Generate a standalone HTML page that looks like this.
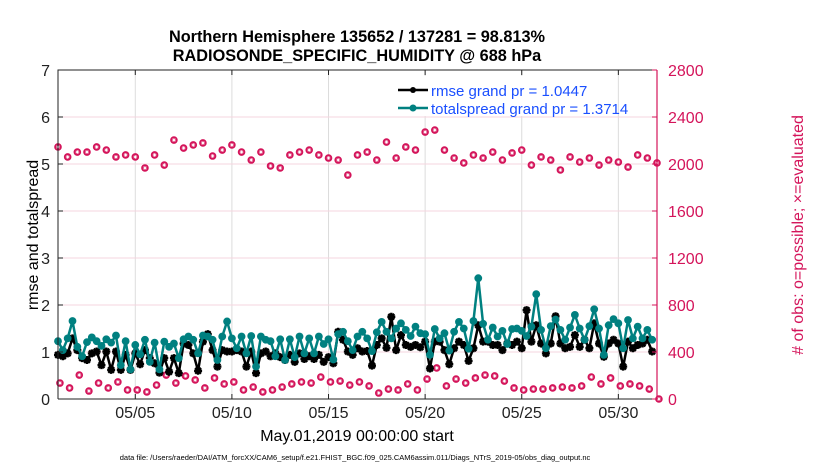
<!DOCTYPE html>
<html><head><meta charset="utf-8"><style>
body{margin:0;background:#fff;}
svg text{font-family:"Liberation Sans",sans-serif;}
</style></head><body>
<svg id="chart" width="830" height="470" xmlns="http://www.w3.org/2000/svg">
<rect x="0" y="0" width="830" height="470" fill="#fff"/>
<g id="grid"></g>
<g id="series"></g>
<g id="axes"></g>
<text x="357" y="42" text-anchor="middle" font-size="16.3" font-weight="bold">Northern Hemisphere 135652 / 137281 = 98.813%</text>
<text x="357" y="61" text-anchor="middle" font-size="16.3" font-weight="bold">RADIOSONDE_SPECIFIC_HUMIDITY @ 688 hPa</text>
<text transform="translate(38,235) rotate(-90)" text-anchor="middle" font-size="16">rmse and totalspread</text>
<text transform="translate(803,235) rotate(-90)" text-anchor="middle" font-size="16" fill="#d4145a"># of obs: o=possible; ×=evaluated</text>
<text x="357" y="441" text-anchor="middle" font-size="16">May.01,2019 00:00:00 start</text>
<text x="355" y="460" text-anchor="middle" font-size="7.5">data file: /Users/raeder/DAI/ATM_forcXX/CAM6_setup/f.e21.FHIST_BGC.f09_025.CAM6assim.011/Diags_NTrS_2019-05/obs_diag_output.nc</text>
<g>
<rect x="392" y="76" width="150" height="40" fill="#fff"/>
<line x1="398" y1="90" x2="428" y2="90" stroke="#000" stroke-width="2.5"/>
<circle cx="413" cy="90" r="3" fill="#000"/>
<text x="431" y="96" font-size="15" fill="#1a4fff">rmse grand pr = 1.0447</text>
<line x1="398" y1="108" x2="428" y2="108" stroke="#008080" stroke-width="2.5"/>
<circle cx="413" cy="108" r="3.5" fill="#008080"/>
<text x="431" y="114" font-size="15" fill="#1a4fff">totalspread grand pr = 1.3714</text>
</g>
</svg>
<script>
const rmse=[0.94,0.91,0.97,1.29,1.04,0.87,0.83,0.97,1.01,0.72,1.01,0.62,1.01,0.62,0.94,0.62,0.97,0.74,1.04,0.87,0.76,0.56,0.87,0.58,0.87,0.55,1.18,1.15,0.97,0.60,1.22,1.38,1.04,0.69,1.04,1.01,1.01,1.04,1.01,0.69,1.01,0.55,0.97,1.01,
0.91,0.97,0.89,0.83,0.94,0.79,0.97,0.85,0.91,0.85,0.94,0.79,0.89,0.76,1.43,1.26,1.01,0.94,1.08,1.01,1.02,0.71,1.15,1.29,1.09,1.75,1.04,1.36,1.15,1.11,1.15,1.10,1.22,0.65,1.22,1.22,1.04,0.74,1.08,1.22,1.15,
0.81,1.08,1.57,1.22,1.22,1.15,1.15,1.04,1.18,1.15,1.22,1.08,1.89,1.22,1.57,1.18,0.97,1.18,1.76,1.18,1.08,1.11,1.36,1.11,1.26,1.08,1.61,1.18,0.90,1.18,1.26,1.18,0.69,1.22,1.08,1.15,1.18,1.26,1.01];
const spread=[1.23,1.04,1.29,1.66,1.11,0.91,1.21,1.31,1.23,1.13,1.27,1.20,1.35,0.72,1.23,0.63,1.15,0.95,1.26,0.79,1.20,0.63,1.22,1.11,1.18,0.87,1.27,1.33,1.26,0.97,1.35,1.33,1.26,0.83,1.33,1.65,1.29,1.08,1.33,0.97,1.34,0.69,1.33,1.26,
1.23,0.91,1.27,0.83,1.27,0.89,1.33,0.97,1.29,0.97,1.33,1.17,1.27,0.84,1.38,1.43,1.23,1.04,1.33,1.43,1.29,1.02,1.42,1.64,1.43,1.29,1.50,1.61,1.47,1.34,1.54,1.40,1.38,0.94,1.49,1.29,1.40,1.03,1.43,1.64,1.50,
1.07,1.66,2.57,1.60,1.26,1.52,1.33,1.45,1.17,1.49,1.50,1.45,1.34,1.54,2.23,1.47,1.08,1.55,1.69,1.47,1.26,1.52,1.79,1.50,1.26,1.55,1.91,1.50,0.94,1.57,1.70,1.61,1.08,1.68,1.29,1.54,1.29,1.47,1.26];
const possible=[2145,2060,2102,2102,2145,2119,2060,2077,2060,1966,2077,1991,2204,2136,2162,2179,2068,2119,2162,2102,2034,2102,1983,1966,2077,2102,2119,2077,2051,2034,1906,2077,2102,2034,2187,2051,2145,2119,2272,2289,2119,2051,2009,2077,2051,2102,2034,2094,2119,1991,2060,2034,1949,2060,2017,2051,1991,2034,2017,1974,2077,2051,2009];
const evaluated=[136,94,204,68,136,94,145,77,77,60,119,204,136,196,162,94,179,128,145,77,102,60,77,102,128,145,136,187,145,153,119,145,111,51,85,77,128,77,170,264,111,170,136,179,204,196,153,94,77,85,85,94,102,94,111,187,128,179,111,128,111,85,0];
const yTicksLeft=[0,1,2,3,4,5,6,7];
const yTicksRight=[0,400,800,1200,1600,2000,2400,2800];
const xTickDays=[4,9,14,19,24,29];
const xTickLabels=["05/05","05/10","05/15","05/20","05/25","05/30"];
const X0=58,X1=657,Y0=399,Y1=70;
const xs=t=>X0+(t/31)*(X1-X0);
const yl=v=>Y0-(v/7)*(Y0-Y1);
const yr=c=>Y0-(c/2800)*(Y0-Y1);
const NS="http://www.w3.org/2000/svg";
function mk(tag,attrs,parent){const e=document.createElementNS(NS,tag);for(const k in attrs)e.setAttribute(k,attrs[k]);parent.appendChild(e);return e;}
const grid=document.getElementById('grid'),ser=document.getElementById('series'),ax=document.getElementById('axes');
xTickDays.forEach(d=>{const l=mk('line',{x1:xs(d),x2:xs(d),y1:Y1,y2:Y0,stroke:'#dcdcdc','stroke-width':1},grid);

});
yTicksRight.forEach(c=>{const l=mk('line',{x1:X0,x2:X1,y1:yr(c),y2:yr(c),stroke:'#f5d5df','stroke-width':1},grid);

});
function pinkMark(x,y,name){const g=mk('g',{},ser);


mk('circle',{cx:x,cy:y,r:3.8,fill:'#d4145a'},g);
mk('path',{d:`M${x-2} ${y}H${x+2}M${x} ${y-2}V${y+2}M${x-1.4} ${y-1.4}L${x+1.4} ${y+1.4}M${x-1.4} ${y+1.4}L${x+1.4} ${y-1.4}`,stroke:'#fff','stroke-width':0.6},g);}
possible.forEach((c,i)=>pinkMark(xs(i*0.5),yr(c),'possible-obs-point'));
evaluated.forEach((c,i)=>pinkMark(xs(i*0.5+0.1),yr(c),'evaluated-obs-point'));
function line(arr,color,name,marker){const pts=arr.map((v,i)=>xs(i*0.25)+','+yl(v)).join(' ');
const p=mk('polyline',{points:pts,fill:'none',stroke:color,'stroke-width':2.5,'stroke-linejoin':'round'},ser);


arr.forEach((v,i)=>{const x=xs(i*0.25),y=yl(v);
if(marker==='circle'){const c=mk('circle',{cx:x,cy:y,r:3.9,fill:color},ser);

}
else{const c=mk('path',{d:`M${x-4} ${y}H${x+4}M${x} ${y-4}V${y+4}M${x-2.9} ${y-2.9}L${x+2.9} ${y+2.9}M${x-2.9} ${y+2.9}L${x+2.9} ${y-2.9}`,stroke:color,'stroke-width':2.4},ser);

}});}
line(rmse,'#000','rmse','star');
line(spread,'#008080','totalspread','circle');
const frame=mk('path',{d:`M${X0} ${Y0}V${Y1}H${X1}M${X0} ${Y0}H${X1}`,fill:'none',stroke:'#222','stroke-width':1},ax);


const ra=mk('line',{x1:X1,x2:X1,y1:Y1,y2:Y0,stroke:'#d4145a','stroke-width':1.2},ax);


yTicksLeft.forEach(v=>{mk('line',{x1:X0,x2:X0+5,y1:yl(v),y2:yl(v),stroke:'#222'},ax);
const t=mk('text',{x:X0-8,y:yl(v)+6,'text-anchor':'end','font-size':16,fill:'#222'},ax);t.textContent=v;

});
yTicksRight.forEach(c=>{mk('line',{x1:X1-5,x2:X1,y1:yr(c),y2:yr(c),stroke:'#d4145a'},ax);
const t=mk('text',{x:X1+11,y:yr(c)+6,'font-size':16,fill:'#d4145a'},ax);t.textContent=c;

});
xTickDays.forEach((d,i)=>{mk('line',{x1:xs(d),x2:xs(d),y1:Y0,y2:Y0-5,stroke:'#222'},ax);
mk('line',{x1:xs(d),x2:xs(d),y1:Y1,y2:Y1+5,stroke:'#222'},ax);
const t=mk('text',{x:xs(d),y:Y0+19,'text-anchor':'middle','font-size':16,fill:'#222'},ax);t.textContent=xTickLabels[i];

});
</script>
</body></html>
